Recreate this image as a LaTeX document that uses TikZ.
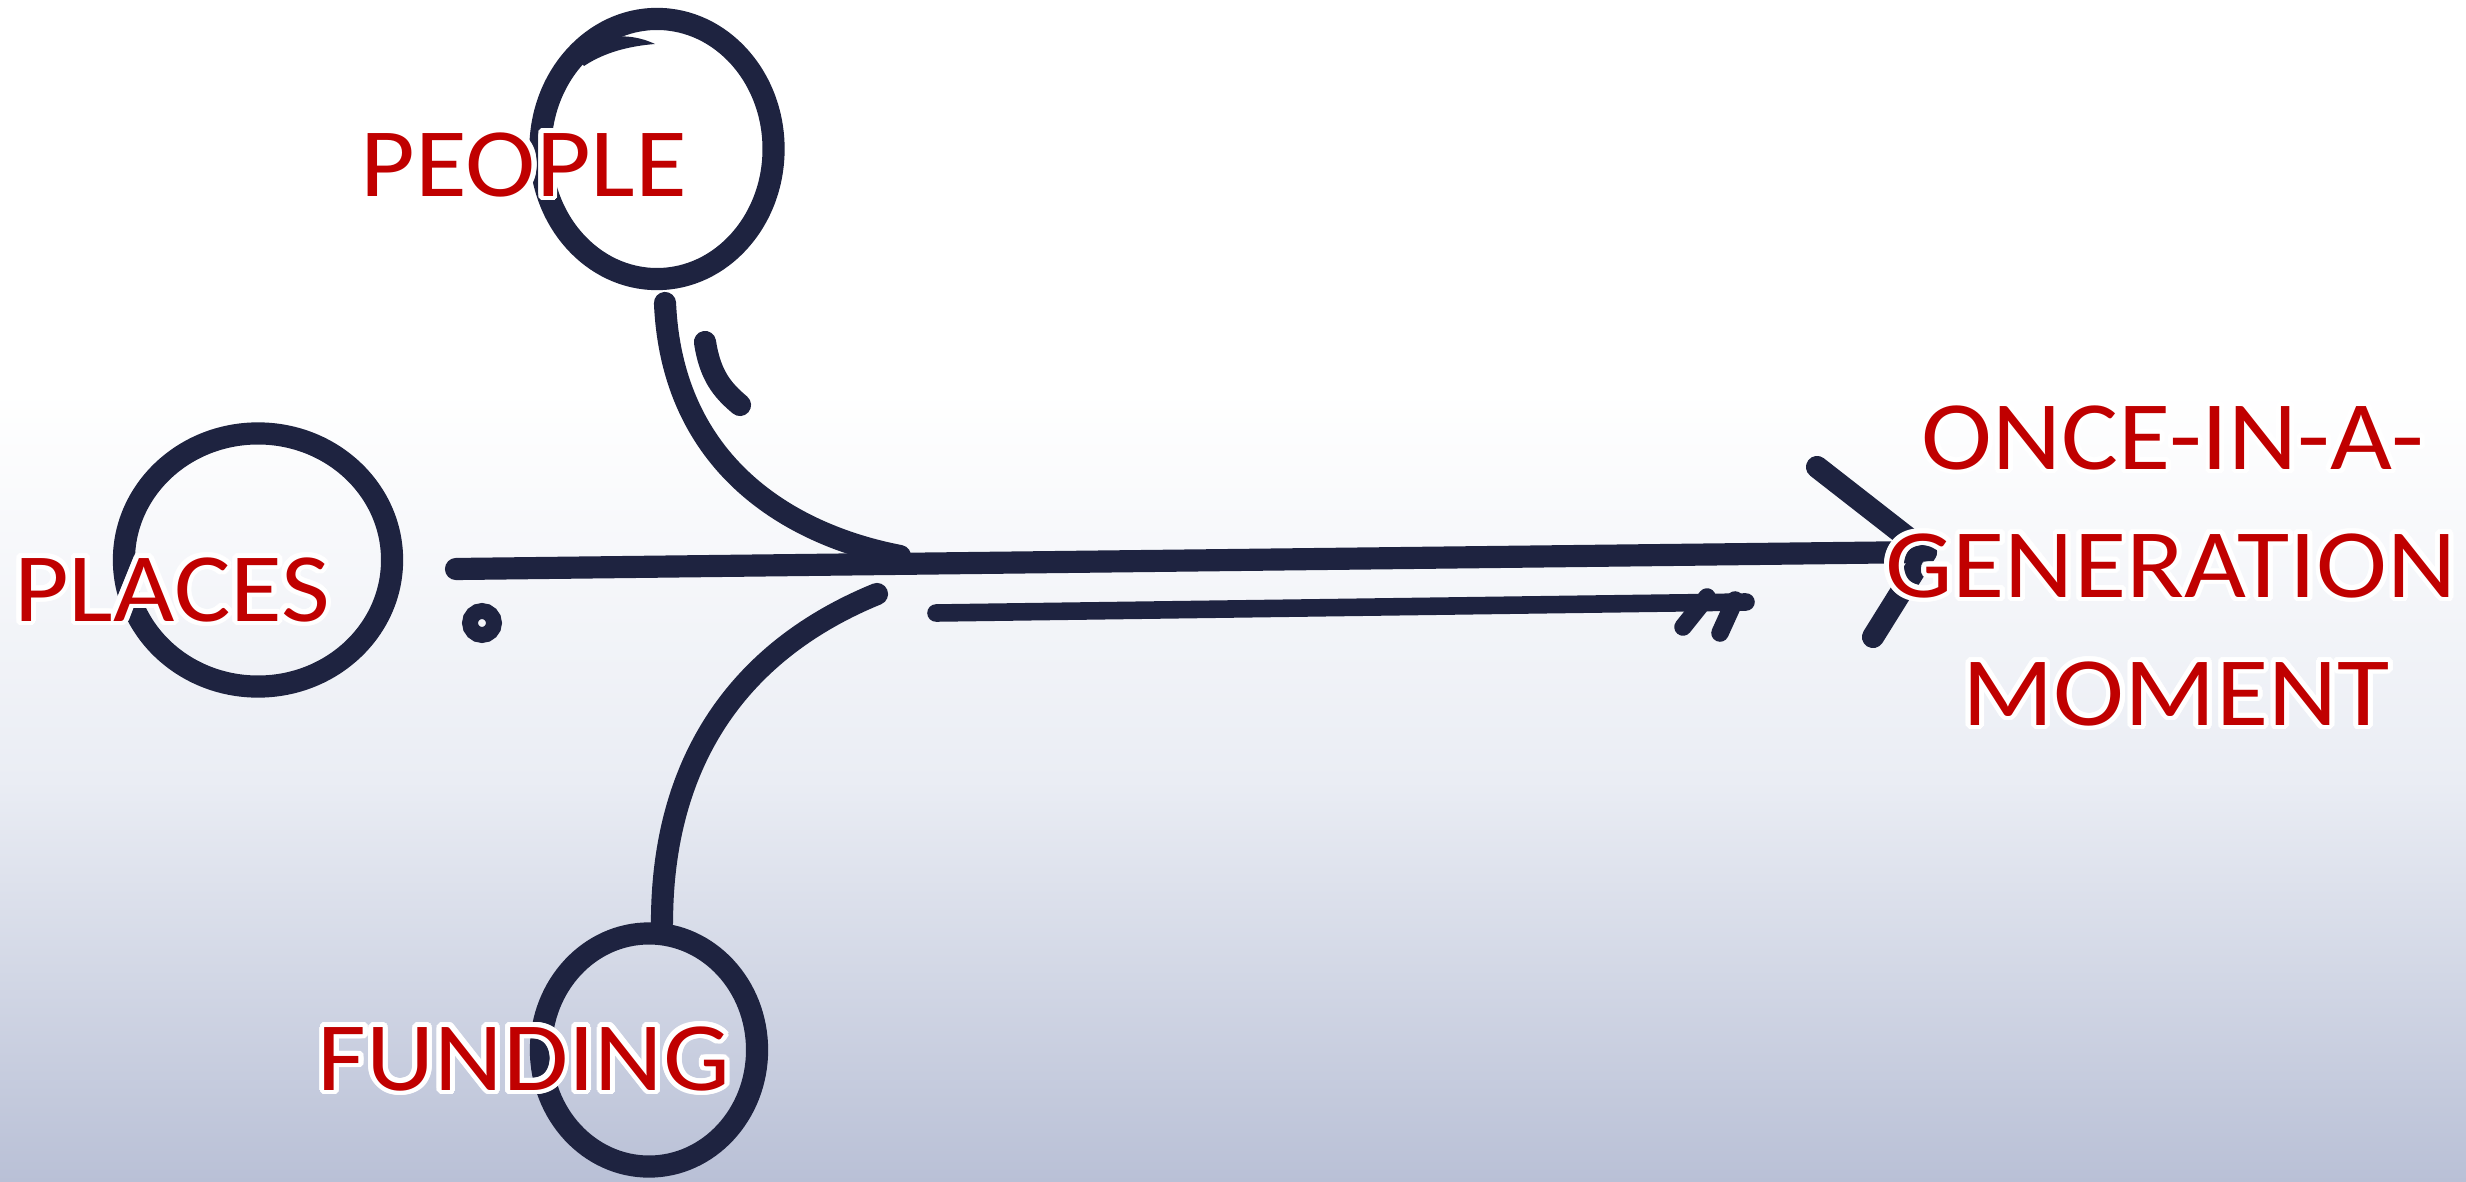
\documentclass[tikz,border=0pt]{standalone}
\usepackage{fontspec}
\setmainfont{Carlito}
\usepackage{contour}
\usetikzlibrary{shapes.geometric}
\definecolor{ink}{HTML}{1E2340}
\definecolor{lbl}{HTML}{C00000}
\definecolor{bgmid}{HTML}{EAEDF4}
\definecolor{bgbot}{HTML}{B9C0D6}
\contourlength{1.4pt}
\contournumber{24}
\newcommand{\lblx}[2]{\contour{white}{\scalebox{#1}[1]{#2}}}
\begin{document}
\begin{tikzpicture}[x=0.01cm,y=-0.01cm,
  inkline/.style={draw=ink,line width=6.3pt,line cap=round,line join=round},
  thinink/.style={draw=ink,line width=5pt,line cap=round,line join=round},
  ring/.style={ellipse,draw=ink,line width=6.3pt,inner sep=0pt},
  lab/.style={text=lbl,inner sep=0pt,font=\fontsize{27.9}{33}\selectfont}]
\useasboundingbox (0,0) rectangle (2466,1182);
\fill[white] (0,0) rectangle (2466,392);
\shade[top color=white,bottom color=bgmid] (0,390) rectangle (2466,781);
\shade[top color=bgmid,bottom color=bgbot] (0,780) rectangle (2466,1182);

% rings
\node[ring,minimum width=2.33cm,minimum height=2.6cm] (peoplec) at (657,149) {};
\node[ring,minimum width=2.68cm,minimum height=2.53cm] (placesc) at (258,560) {};
\node[ring,minimum width=2.16cm,minimum height=2.33cm] (fundingc) at (649,1050) {};
\fill[ink] (574,56) .. controls (595,36) and (625,30) .. (655,44)
  .. controls (630,46) and (605,52) .. (584,66) -- cycle;

% coordinates
\coordinate (start) at (456,569);
\coordinate (j) at (900,556);
\coordinate (tip) at (1926,552);
\coordinate (pstem) at (665,303);
\coordinate (fstem) at (877,594);
\coordinate (fend) at (662,923);

% main line and branches
\draw[inkline] (start) -- (tip);
\draw[inkline] (pstem) .. controls (672,465) and (790,535) .. (j);
\draw[inkline] (705,342) .. controls (710,375) and (722,390) .. (740,405);
\draw[inkline] (fstem) .. controls (740,650) and (662,760) .. (fend);
\draw[draw=ink,line width=4.5pt] (482,623) circle (12);

% lower line with ticks
\coordinate (l1) at (936,613);
\coordinate (l2) at (1746,602);
\draw[thinink] (l1) -- (l2);
\draw[thinink] (1707,597) -- (1683,627);
\draw[thinink] (1735,600) -- (1720,633);

% arrow head
\draw[inkline] (1817,467) -- (tip) -- (1873,637);

% labels
\node[lab] (people) at (524,167) {\lblx{1.08}{PEOPLE}};
\node[lab] (places) at (172,592) {\lblx{1.08}{PLACES}};
\node[lab] (funding) at (524,1061) {\lblx{1.08}{FUNDING}};
\node[lab] (goal1) at (2173,440) {\lblx{1.09}{ONCE-IN-A-}};
\node[lab] (goal2) at (2171,568) {\lblx{1.09}{GENERATION}};
\node[lab] (goal3) at (2176,696) {\lblx{1.09}{MOMENT}};
\end{tikzpicture}
\end{document}
